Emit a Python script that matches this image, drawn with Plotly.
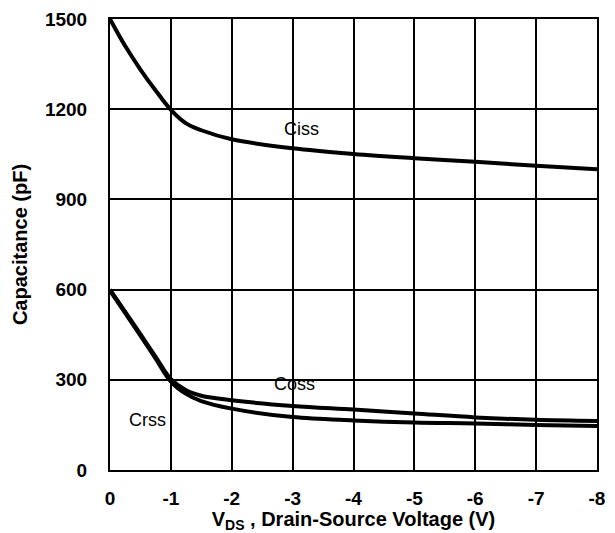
import plotly.graph_objects as go

vds = [0, -0.25, -0.5, -0.75, -1, -1.25, -1.5, -2, -3, -4, -5, -6, -7, -8]
ciss = [1500, 1410, 1332, 1262, 1198, 1153, 1130, 1100, 1070, 1051, 1037, 1025, 1012, 1000]
coss = [600, 526, 452, 376, 302, 265, 247, 232, 213, 201, 188, 175, 167, 163]
crss = [596, 522, 447, 370, 294, 253, 229, 204, 176, 165, 158, 155, 150, 146]

xticks = [0, -1, -2, -3, -4, -5, -6, -7, -8]
xticktext = ["0", "-1", "-2", "-3", "-4", "-5", "-6", "-7", "-8"]
yticks = [0, 300, 600, 900, 1200, 1500]
yticktext = ["0", "300", "600", "900", "1200", "1500"]

labels = [("Ciss", -3.14, 1135), ("Coss", -3.03, 286), ("Crss", -0.61, 166)]

FONT = "Liberation Sans, Arial, sans-serif"

fig = go.Figure()
for name, ys in [("Ciss", ciss), ("Coss", coss), ("Crss", crss)]:
    fig.add_trace(go.Scatter(x=vds, y=ys, mode="lines", name=name,
                             line=dict(color="black", width=4, shape="spline", smoothing=1.0),
                             showlegend=False))

for txt, x, y in labels:
    fig.add_annotation(x=x, y=y, text=txt, showarrow=False,
                       font=dict(family=FONT, size=18, color="black"))

fig.update_layout(
    width=615, height=533,
    margin=dict(l=110, r=18, t=19, b=63, autoexpand=False),
    paper_bgcolor="white", plot_bgcolor="white",
    font=dict(family=FONT, color="black"),
)
fig.update_xaxes(range=[0, -8], tickvals=xticks, ticktext=xticktext,
                 showgrid=True, gridcolor="black", gridwidth=2,
                 showline=True, linecolor="black", linewidth=2, mirror=True,
                 zeroline=False, ticks="", ticklabelstandoff=10, automargin=False,
                 tickfont=dict(size=19, family=FONT, weight="bold"),
                 title=dict(text="V<sub>DS</sub> , Drain-Source Voltage (V)", standoff=2,
                            font=dict(size=20, family=FONT, weight="bold")))
fig.update_yaxes(range=[0, 1500], tickvals=yticks, ticktext=yticktext,
                 showgrid=True, gridcolor="black", gridwidth=2,
                 showline=True, linecolor="black", linewidth=2, mirror=True,
                 zeroline=False, ticks="", ticklabelstandoff=17, automargin=False,
                 tickfont=dict(size=19, family=FONT, weight="bold"),
                 title=dict(text="Capacitance (pF)", standoff=12,
                            font=dict(size=20, family=FONT, weight="bold")))

fig.write_html("out.html", config={"displayModeBar": False},
               post_script="document.body.style.margin='0';")
